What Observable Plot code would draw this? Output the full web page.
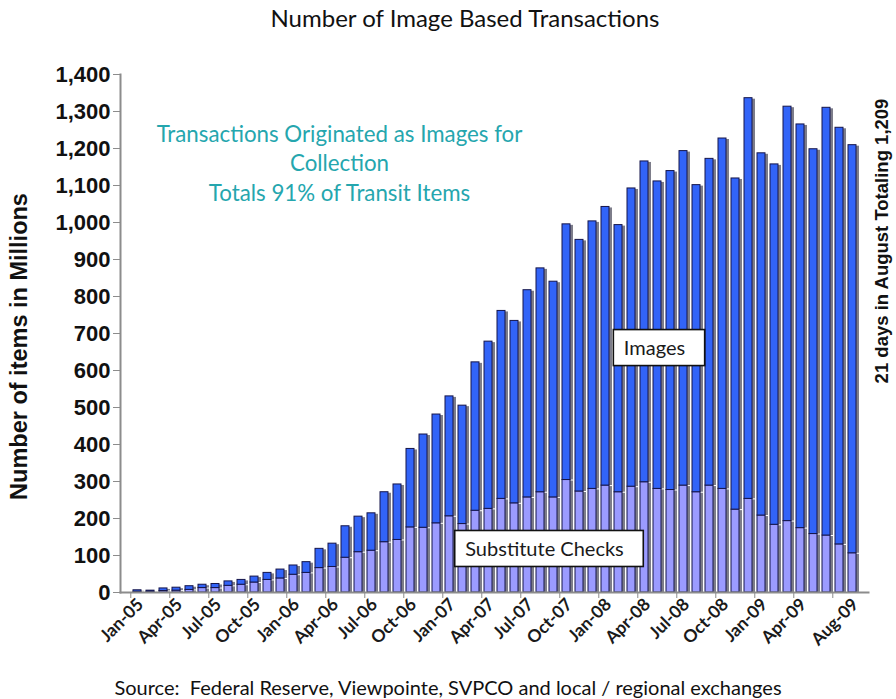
<!DOCTYPE html>
<html>
<head>
<meta charset="utf-8">
<script src="https://cdn.jsdelivr.net/npm/d3@7"></script>
<script src="https://cdn.jsdelivr.net/npm/@observablehq/plot@0.6"></script>
<style>
  html, body { margin: 0; padding: 0; background: #fff; }
  #wrap { width: 896px; height: 699px; overflow: hidden; }
  #title { height: 40px; text-align: center; font-family: Lato, sans-serif; font-size: 24px; color: #111; line-height: 36px; padding-left: 34px; box-sizing: border-box; }
  #caption { height: 34px; text-align: center; font-family: Lato, sans-serif; font-size: 20px; color: #111; line-height: 44px; }
</style>
</head>
<body>
<div id="wrap">
  <div id="title">Number of Image Based Transactions</div>
  <div id="chart"></div>
  <div id="caption">Source:&nbsp; Federal Reserve, Viewpointe, SVPCO and local / regional exchanges</div>
</div>
<script>
const months = [
  "Jan-05","Feb-05","Mar-05","Apr-05","May-05","Jun-05","Jul-05","Aug-05","Sep-05","Oct-05","Nov-05","Dec-05",
  "Jan-06","Feb-06","Mar-06","Apr-06","May-06","Jun-06","Jul-06","Aug-06","Sep-06","Oct-06","Nov-06","Dec-06",
  "Jan-07","Feb-07","Mar-07","Apr-07","May-07","Jun-07","Jul-07","Aug-07","Sep-07","Oct-07","Nov-07","Dec-07",
  "Jan-08","Feb-08","Mar-08","Apr-08","May-08","Jun-08","Jul-08","Aug-08","Sep-08","Oct-08","Nov-08","Dec-08",
  "Jan-09","Feb-09","Mar-09","Apr-09","May-09","Jun-09","Jul-09","Aug-09"
];
const substituteChecks = [
  2,2,4,5,7,12,12,18,21,27,34,38,
  48,53,66,69,94,109,113,136,142,176,175,187,
  206,185,221,226,253,241,257,271,257,304,273,280,
  289,271,286,298,280,277,289,271,289,280,224,253,
  208,183,193,174,158,154,130,106
];
const images = [
  4,3,7,8,10,9,11,12,13,16,19,24,
  25,29,52,63,85,96,101,135,150,212,252,294,
  324,320,401,452,508,493,560,605,583,691,680,723,
  753,722,806,867,831,862,904,830,883,947,895,1083,
  979,974,1120,1091,1040,1156,1126,1103
];
const tickLabels = ["Jan-05","Apr-05","Jul-05","Oct-05","Jan-06","Apr-06","Jul-06","Oct-06","Jan-07","Apr-07","Jul-07","Oct-07","Jan-08","Apr-08","Jul-08","Oct-08","Jan-09","Apr-09","Aug-09"];
const tickMarks = ["Jan-05","Apr-05","Jul-05","Oct-05","Jan-06","Apr-06","Jul-06","Oct-06","Jan-07","Apr-07","Jul-07","Oct-07","Jan-08","Apr-08","Jul-08","Oct-08","Jan-09","Apr-09","Jul-09"];
const seriesNames = ["Substitute Checks", "Images"];
const seriesColors = ["#9b9bff", "#3264f8"];
const yTicks = [0,100,200,300,400,500,600,700,800,900,1000,1100,1200,1300,1400];

const noteLines = ["Transactions Originated as Images for", "Collection", "Totals 91% of Transit Items"];
const note = [{month: "May-06", value: 1164, text: noteLines.join("\n")}];
const boxLabels = [
  {month: "May-08", value: 659, label: "Images", dx: -3},
  {month: "Aug-07", value: 116, label: "Substitute Checks", dx: 4}
];
const sideNote = [{month: "Aug-09", value: 950, text: "21 days in August Totaling 1,209"}];

const rows = months.flatMap((m, i) => [
  {month: m, type: seriesNames[0], value: substituteChecks[i]},
  {month: m, type: seriesNames[1], value: images[i]}
]);

const W = 896, H = 625, ML = 120, MR = 28, MT = 34, MB = 73;
const step = (W - ML - MR) / (months.length - 0.4 + 0.1);

const plot = Plot.plot({
  width: W, height: H,
  marginLeft: ML, marginRight: MR, marginTop: MT, marginBottom: MB,
  style: {background: "#fff", overflow: "visible"},
  x: {type: "band", domain: months, paddingInner: 0.4, paddingOuter: 0.05, label: null},
  y: {domain: [0, 1400], label: null},
  color: {domain: seriesNames, range: seriesColors},
  marks: [
    Plot.barY(rows, Plot.stackY({x: "month", y: "value", z: "type", order: seriesNames, fill: "#7d7d8a", dx: 3, insetTop: 1})),
    Plot.barY(rows, Plot.stackY({x: "month", y: "value", z: "type", order: seriesNames, fill: "type", stroke: "#15154a", strokeWidth: 1})),
    Plot.frame({anchor: "left", stroke: "#8c8c8c", strokeWidth: 2}),
    Plot.frame({anchor: "bottom", stroke: "#8c8c8c", strokeWidth: 2}),
    Plot.axisY({ticks: yTicks, tickSize: 7, tickPadding: 3, stroke: "#8c8c8c",
      fontSize: 22, fontWeight: "bold", fontFamily: "Liberation Sans, Arial, sans-serif", fill: "#111",
      tickFormat: d3.format(","),
      label: "Number of items in Millions", labelAnchor: "center", labelArrow: "none", labelOffset: 110}),
    Plot.axisX({ticks: tickMarks, tickSize: 6, text: null, stroke: "#8c8c8c", dx: -step / 2}),
    Plot.axisX({ticks: tickLabels, tickSize: 0, tickPadding: 9, tickRotate: -45,
      fontSize: 17.5, fontWeight: "bold", fontFamily: "Lato, sans-serif", fill: "#1a1a1a", label: null, dx: 3}),
    Plot.text(note, {x: "month", y: "value", text: "text", dx: -6, fill: "#25a6ae", fontSize: 22.3,
      fontFamily: "Lato, sans-serif", lineHeight: 1.34, textAnchor: "middle"}),
    Plot.text(boxLabels, {x: "month", y: "value", text: "label", fill: "#1a1a1a", fontSize: 20,
      fontFamily: "Lato, sans-serif", textAnchor: "middle", className: "boxed"}),
    Plot.text(sideNote, {x: "month", y: "value", text: "text", dx: 30, rotate: -90, fill: "#111",
      fontSize: 18.5, fontWeight: "bold", fontFamily: "Liberation Sans, Arial, sans-serif", textAnchor: "middle"})
  ]
});

document.getElementById("chart").appendChild(plot);
d3.select(plot).selectAll("text")
  .filter(function() { return this.textContent === "Number of items in Millions"; })
  .style("font-size", "23.5px")
  .attr("dx", "-13px");

d3.select(plot).selectAll("g.boxed text").each(function(d, i) {
  const t = d3.select(this);
  const shift = boxLabels[i].dx;
  const tr = t.attr("transform") || "";
  t.attr("transform", tr + ` translate(${shift},0)`);
  const bb = this.getBBox();
  const svg = plot;
  const pt = svg.createSVGPoint();
  pt.x = bb.x; pt.y = bb.y;
  const m = this.getScreenCTM();
  const inv = svg.getScreenCTM().inverse();
  const p1 = pt.matrixTransform(m).matrixTransform(inv);
  const padX = 15, h = 36;
  const cy = p1.y + bb.height / 2;
  d3.select(this.parentNode).insert("rect", () => this)
    .attr("x", p1.x - padX).attr("y", cy - h / 2)
    .attr("width", bb.width + 2 * padX).attr("height", h)
    .attr("fill", "#fff").attr("stroke", "#111").attr("stroke-width", 1.6);
});
</script>
</body>
</html>
